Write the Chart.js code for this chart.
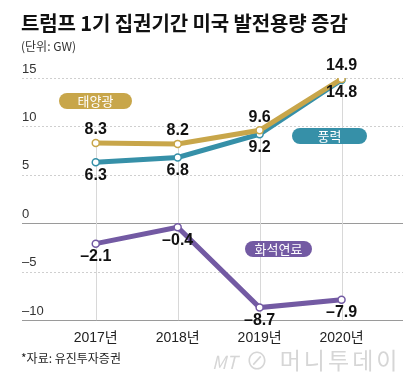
<!DOCTYPE html>
<html>
<head>
<meta charset="utf-8">
<script src="https://cdn.jsdelivr.net/npm/chart.js@4/dist/chart.umd.min.js"></script>
<style>
  body { margin: 0; background: #fff; }
  #wrap { position: relative; width: 420px; height: 384px; overflow: hidden; font-family: 'Liberation Sans', 'Noto Sans CJK KR', sans-serif; }
  canvas { position: absolute; left: 0; top: 0; }
  .title { position: absolute; left: 21px; top: 8px; font-size: 20px; font-weight: bold; color: #111; letter-spacing: -0.1px; font-family: 'Noto Sans CJK KR', sans-serif; }
  .unit { position: absolute; left: 21px; top: 37px; font-size: 12px; color: #333; font-family: 'Noto Sans CJK KR', sans-serif; }
  .source { position: absolute; left: 21px; top: 349px; font-size: 12px; color: #222; font-family: 'Noto Sans CJK KR', sans-serif; }
  .pill { position: absolute; height: 16px; line-height: 16px; border-radius: 8px; color: #fff; text-align: center; font-size: 13px; font-family: 'Noto Sans CJK KR', sans-serif; }
  .mark { position: absolute; left: 212px; top: 342px; font-size: 23px; color: #d6d6d6; font-family: 'Noto Sans CJK KR', sans-serif; letter-spacing: 3px; white-space: nowrap; }
  .mark i { font-size: 18px; letter-spacing: 0; }
</style>
</head>
<body>
<div id="wrap">
  <canvas id="chart" width="420" height="384"></canvas>
  <div class="title">트럼프 1기 집권기간 미국 발전용량 증감</div>
  <div class="unit">(단위: GW)</div>
  <div class="pill" style="left:59px; top:93px; width:73px; background:#c8a64a;">태양광</div>
  <div class="pill" style="left:292px; top:128px; width:75px; background:#3690a8;">풍력</div>
  <div class="pill" style="left:245px; top:241px; width:67px; background:#735aa3;">화석연료</div>
  <div class="source">*자료: 유진투자증권</div>
  <div class="mark"><i>MT</i> ⊘ 머니투데이</div>
</div>
<script>
// data
var years = ['2017년', '2018년', '2019년', '2020년'];
var solar = [8.3, 8.2, 9.6, 14.9];
var wind = [6.3, 6.8, 9.2, 14.8];
var fossil = [-2.1, -0.4, -8.7, -7.9];
var yTicks = [15, 10, 5, 0, -5, -10];

var solarColor = '#c8a64a';
var windColor = '#3690a8';
var fossilColor = '#735aa3';

function toPoints(values) {
    return values.map(function (v, i) { return { x: i, y: v }; });
}

function fmt(v) {
    return String(v).replace('-', '\u2013');
}

// dashed horizontal grid, solid at 0 and at the bottom
var gridPlugin = {
    id: 'gridLines',
    beforeDatasetsDraw: function (chart) {
        var ctx = chart.ctx;
        var area = chart.chartArea;
        var y = chart.scales.y;
        var x = chart.scales.x;
        ctx.save();
        yTicks.forEach(function (t) {
            var py = Math.round(y.getPixelForValue(t)) + 0.5;
            ctx.beginPath();
            if (t === 0 || t === -10) {
                ctx.setLineDash([]);
                ctx.strokeStyle = '#9a9a9a';
            } else {
                ctx.setLineDash([2, 2]);
                ctx.strokeStyle = '#cfcfcf';
            }
            ctx.lineWidth = 1;
            ctx.moveTo(area.left, py);
            ctx.lineTo(area.right, py);
            ctx.stroke();
        });
        // drop lines from the top point of each year
        ctx.setLineDash([]);
        ctx.strokeStyle = '#d8d8d8';
        years.forEach(function (label, i) {
            var top = Math.max(solar[i], wind[i], fossil[i]);
            var px = Math.round(x.getPixelForValue(i)) + 0.5;
            ctx.beginPath();
            ctx.moveTo(px, y.getPixelForValue(top));
            ctx.lineTo(px, area.bottom);
            ctx.stroke();
        });
        ctx.restore();
    }
};

// value labels: solar above, others below
var labelPlugin = {
    id: 'valueLabels',
    afterDatasetsDraw: function (chart) {
        var ctx = chart.ctx;
        ctx.save();
        ctx.font = 'bold 16px "Liberation Sans", sans-serif';
        ctx.fillStyle = '#111';
        ctx.textAlign = 'center';
        ctx.textBaseline = 'middle';
        chart.data.datasets.forEach(function (ds, di) {
            var meta = chart.getDatasetMeta(di);
            meta.data.forEach(function (pt, i) {
                var dy = ds.labelPos === 'above' ? -13 : 13;
                ctx.fillText(fmt(ds.data[i].y), pt.x, pt.y + dy);
            });
        });
        ctx.restore();
    }
};

new Chart(document.getElementById('chart').getContext('2d'), {
    type: 'line',
    data: {
        datasets: [{
            label: '태양광',
            data: toPoints(solar),
            borderColor: solarColor,
            labelPos: 'above'
        }, {
            label: '풍력',
            data: toPoints(wind),
            borderColor: windColor,
            labelPos: 'below'
        }, {
            label: '화석연료',
            data: toPoints(fossil),
            borderColor: fossilColor,
            labelPos: 'below'
        }]
    },
    options: {
        responsive: false,
        animation: false,
        layout: { padding: { left: 22, right: 17, top: 78, bottom: 27 } },
        elements: {
            line: { borderWidth: 5, tension: 0 },
            point: { radius: 3.5, borderWidth: 1.5, backgroundColor: '#fff' }
        },
        scales: {
            x: {
                type: 'linear',
                min: -0.9,
                max: 3.75,
                afterBuildTicks: function (s) {
                    s.ticks = years.map(function (y, i) { return { value: i }; });
                },
                grid: { display: false, drawTicks: false },
                border: { display: false },
                ticks: {
                    padding: 10,
                    color: '#222',
                    font: { size: 14, family: '"Liberation Sans", "Noto Sans CJK KR"' },
                    callback: function (v) { return years[v]; }
                }
            },
            y: {
                min: -10,
                max: 15,
                afterBuildTicks: function (s) {
                    s.ticks = yTicks.map(function (v) { return { value: v }; });
                },
                grid: { display: false, drawTicks: false },
                border: { display: false },
                ticks: {
                    mirror: true,
                    padding: 0,
                    labelOffset: -9,
                    color: '#333',
                    font: { size: 13, family: '"Liberation Sans", sans-serif' },
                    callback: function (v) { return fmt(v); }
                }
            }
        },
        plugins: {
            legend: { display: false },
            tooltip: { enabled: false }
        }
    },
    plugins: [gridPlugin, labelPlugin]
});
</script>
</body>
</html>
